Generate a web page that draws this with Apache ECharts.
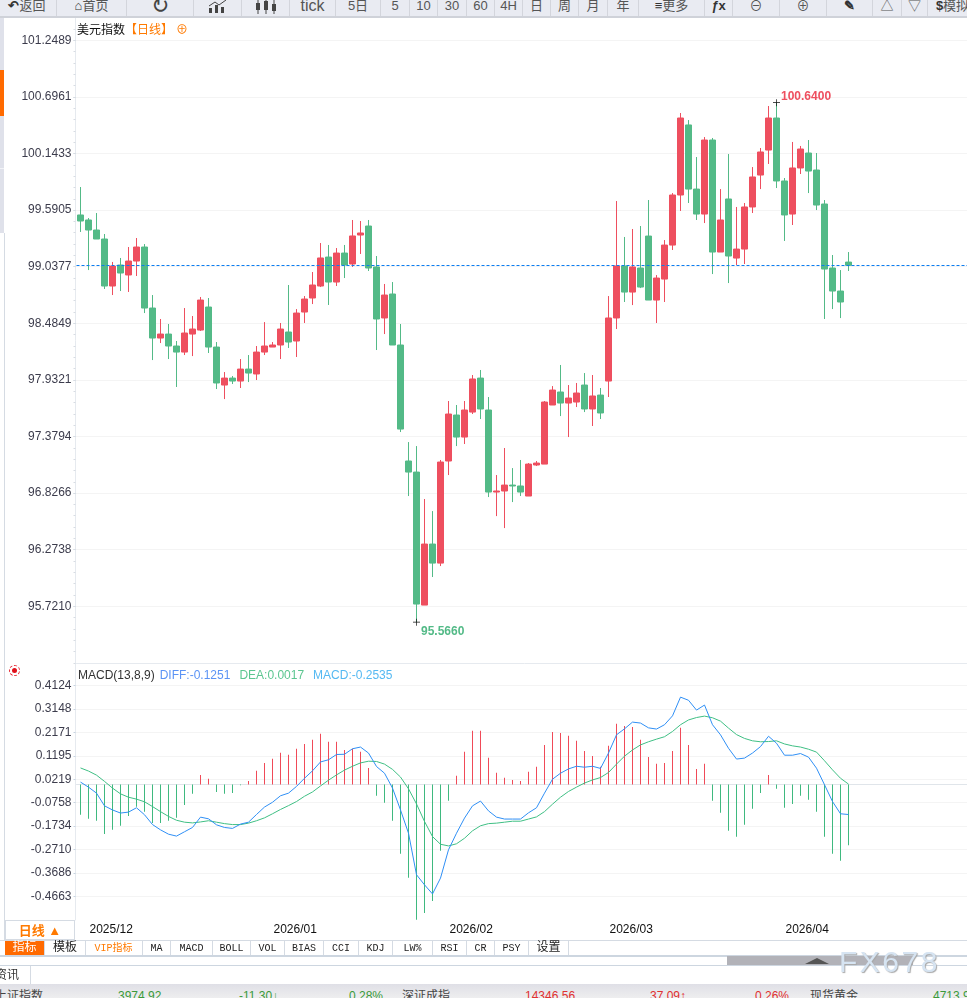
<!DOCTYPE html>
<html>
<head>
<meta charset="utf-8">
<title>美元指数</title>
<script src="https://cdn.jsdelivr.net/npm/echarts@6/dist/echarts.min.js"></script>
<style>
  html, body { margin: 0; padding: 0; background: #fff; overflow: hidden; }
  body { width: 967px; height: 998px; position: relative; font-family: "Liberation Sans", "Noto Sans CJK SC", sans-serif; }
  #chart { position: absolute; left: 0; top: 0; width: 980px; height: 998px; }
  .box { position: absolute; box-sizing: border-box; }
  #toolbar { position: absolute; left: 0; top: 0; width: 967px; height: 18px; background: #e9ebf2; border-bottom: 2px solid #cfd2d9; box-sizing: border-box; overflow: hidden; }
  #toolbar span { position: absolute; top: -4px; height: 20px; line-height: 20px; text-align: center; font-size: 13px; color: #555; border-right: 1px solid #d3d5dc; box-sizing: border-box; white-space: nowrap; }
  #toolbar b { color: #333; }
  #toolbar svg { vertical-align: top; margin-top: 4px; }
  #tabs span { position: absolute; top: 0; height: 15px; line-height: 15px; text-align: center; font-size: 10px; color: #222; border-right: 1px solid #d5dbe3; box-sizing: border-box; font-family: "Liberation Mono", "Noto Sans CJK SC", monospace; }
  #stocks span { position: absolute; top: 5px; line-height: 14px; font-size: 12px; white-space: nowrap; }
</style>
</head>
<body>
<div id="chart"></div>

<!-- surrounding page -->
<div class="box" style="left:0;top:18px;width:4px;height:215px;background:#dfe1ea"></div>
<div class="box" style="left:0;top:70px;width:4px;height:46px;background:#ff6a00"></div>
<div class="box" style="left:0;top:168px;width:4px;height:1px;background:#f2f3f7"></div>
<div class="box" style="left:4px;top:233px;width:1px;height:707px;background:#d5dbe3"></div>
<div class="box" style="left:9px;top:665px;width:11px;height:11px;border:1px dashed #e8303a;border-radius:50%"></div>
<div class="box" style="left:12px;top:668px;width:5px;height:5px;background:#e0101a;border-radius:50%"></div>

<div id="toolbar"></div>

<div class="box" style="left:5px;top:920px;width:70px;height:20px;border:1px solid #d5dbe3;text-align:center;line-height:19px;font-size:13px;font-weight:bold;color:#ff7a00">日线 ▲</div>
<div class="box" style="left:0;top:940px;width:967px;height:1px;background:#d5dbe3"></div>
<div id="tabs" class="box" style="left:5px;top:941px;width:570px;height:15px"></div>
<div class="box" style="left:0;top:955px;width:967px;height:2px;background:#cdd6e0"></div>
<div class="box" style="left:0;top:965px;width:967px;height:1px;background:#cdd6e0"></div>
<div class="box" style="left:727px;top:956px;width:186px;height:9px;background:#b2b2b8"></div>
<div class="box" style="left:805px;top:958px;width:0;height:0;border-left:12px solid transparent;border-right:12px solid transparent;border-bottom:6px solid #555"></div>
<div class="box" style="left:839px;top:943px;font-size:30px;line-height:38px;letter-spacing:2.5px;color:#d6e4f2;text-shadow:1px 1px 1px #a8a8a8">FX678</div>
<div class="box" style="left:-5px;top:966px;width:36px;height:19px;border-right:1px solid #d5dbe3;line-height:18px;font-size:12px;color:#333">资讯</div>
<div id="stocks" class="box" style="left:0;top:984px;width:967px;height:14px;overflow:hidden;background:linear-gradient(#dfdfe6,#eeeeef)"></div>

<script>
const categories = [
  '2025/11/28',
  '2025/12/01','2025/12/02','2025/12/03','2025/12/04','2025/12/05','2025/12/08','2025/12/09','2025/12/10','2025/12/11','2025/12/12',
  '2025/12/15','2025/12/16','2025/12/17','2025/12/18','2025/12/19','2025/12/22','2025/12/23','2025/12/24','2025/12/25','2025/12/26',
  '2025/12/29','2025/12/30','2025/12/31',
  '2026/01/01','2026/01/02','2026/01/05','2026/01/06','2026/01/07','2026/01/08','2026/01/09','2026/01/12','2026/01/13','2026/01/14','2026/01/15','2026/01/16',
  '2026/01/19','2026/01/20','2026/01/21','2026/01/22','2026/01/23','2026/01/26','2026/01/27','2026/01/28','2026/01/29','2026/01/30',
  '2026/02/02','2026/02/03','2026/02/04','2026/02/05','2026/02/06','2026/02/09','2026/02/10','2026/02/11','2026/02/12','2026/02/13',
  '2026/02/16','2026/02/17','2026/02/18','2026/02/19','2026/02/20','2026/02/23','2026/02/24','2026/02/25','2026/02/26','2026/02/27',
  '2026/03/02','2026/03/03','2026/03/04','2026/03/05','2026/03/06','2026/03/09','2026/03/10','2026/03/11','2026/03/12','2026/03/13',
  '2026/03/16','2026/03/17','2026/03/18','2026/03/19','2026/03/20','2026/03/23','2026/03/24','2026/03/25','2026/03/26','2026/03/27',
  '2026/03/30','2026/03/31',
  '2026/04/01','2026/04/02','2026/04/03','2026/04/06','2026/04/07','2026/04/08','2026/04/09','2026/04/10','2026/04/13'
]

// open, close, low, high
const kline = [
  [99.543,99.484,99.377,99.816],[99.494,99.396,99.005,99.513],[99.396,99.308,99.308,99.562],[99.308,98.849,98.820,99.357],
  [98.849,99.044,98.761,99.084],[99.054,98.976,98.800,99.123],[98.957,99.093,98.791,99.230],[99.093,99.230,98.947,99.318],
  [99.230,98.634,98.585,99.259],[98.634,98.341,98.126,98.761],[98.341,98.380,98.292,98.527],[98.380,98.263,98.136,98.478],
  [98.263,98.204,97.863,98.312],[98.204,98.390,98.175,98.634],[98.380,98.429,98.165,98.556],[98.419,98.712,98.410,98.742],
  [98.644,98.253,98.195,98.732],[98.253,97.902,97.843,98.302],[97.882,97.950,97.745,98.009],[97.950,97.921,97.892,97.970],
  [97.921,98.038,97.853,98.136],[98.038,97.999,97.911,98.175],[97.990,98.204,97.931,98.263],[98.204,98.263,98.175,98.497],
  [98.253,98.273,98.253,98.302],[98.273,98.429,98.136,98.488],[98.400,98.302,98.244,98.859],[98.312,98.585,98.156,98.624],
  [98.595,98.722,98.488,98.751],[98.732,98.859,98.673,98.986],[98.849,99.123,98.839,99.269],[99.132,98.888,98.664,99.250],
  [98.888,99.171,98.849,99.220],[99.171,99.054,98.927,99.250],[99.064,99.338,99.035,99.494],[99.347,99.367,99.162,99.484],
  [99.435,99.025,98.996,99.494],[99.035,98.527,98.224,99.142],[98.537,98.761,98.380,98.869],[98.771,98.273,98.273,98.888],
  [98.273,97.452,97.423,98.478],[97.140,97.032,96.798,97.325],[97.032,95.743,95.566,97.286],[95.733,96.329,95.733,96.769],
  [96.329,96.143,96.007,96.651],[96.143,97.130,96.114,97.150],[97.140,97.599,97.003,97.726],[97.589,97.374,97.286,97.687],
  [97.374,97.638,97.306,97.726],[97.618,97.941,97.599,97.980],[97.950,97.648,97.550,98.029],[97.638,96.837,96.788,97.765],
  [96.837,96.847,96.602,97.003],[96.847,96.905,96.485,97.267],[96.905,96.896,96.739,97.071],[96.896,96.837,96.798,97.150],
  [96.798,97.110,96.798,97.120],[97.101,97.120,97.091,97.140],[97.110,97.716,97.110,97.726],[97.687,97.833,97.687,97.872],
  [97.814,97.706,97.579,98.078],[97.706,97.755,97.374,97.882],[97.716,97.804,97.667,97.902],[97.882,97.648,97.618,97.999],
  [97.648,97.775,97.482,97.980],[97.784,97.609,97.550,97.853],[97.921,98.537,97.765,98.751],[98.537,99.045,98.429,99.679],
  [99.045,98.790,98.693,99.328],[98.790,99.035,98.663,99.406],[99.025,98.839,98.829,99.435],[99.337,98.712,98.712,99.689],
  [98.712,98.927,98.488,98.956],[98.917,99.249,98.693,99.298],[99.249,99.738,99.201,99.757],[99.738,100.490,99.582,100.539],
  [100.422,99.796,99.660,100.470],[99.796,99.552,99.494,100.109],[99.552,100.275,99.464,100.304],[100.275,99.181,98.966,100.295],
  [99.181,99.494,99.181,99.796],[99.699,99.142,98.878,100.138],[99.122,99.210,99.054,99.621],[99.210,99.621,99.064,99.660],
  [99.621,99.914,99.562,100.011],[99.933,100.158,99.796,100.197],[100.177,100.490,100.041,100.607],[100.490,99.875,99.806,100.640],
  [99.875,99.543,99.289,99.904],[99.552,100.002,99.445,100.256],[100.002,100.187,99.943,100.217],[100.148,99.972,99.757,100.275],
  [99.982,99.640,99.591,100.148],[99.650,99.015,98.527,99.689],[99.025,98.800,98.624,99.152],[98.800,98.693,98.536,99.005],
  [99.083,99.051,98.996,99.181]
]

const macdBars = [
  -0.126,-0.143,-0.151,-0.206,-0.189,-0.172,-0.131,-0.093,-0.114,-0.160,-0.160,-0.151,-0.139,-0.085,-0.039,0.040,0.024,
  -0.031,-0.039,-0.035,-0.003,0.015,0.057,0.090,0.107,0.132,0.124,0.149,0.169,0.186,0.211,0.178,0.178,0.144,0.149,0.136,0.069,
  -0.047,-0.076,-0.151,-0.289,-0.389,-0.564,-0.535,-0.485,-0.276,-0.068,
  0.036,0.136,0.224,0.224,0.111,0.049,0.028,0.019,0.015,0.053,0.074,0.165,0.219,0.215,0.203,0.182,0.140,0.119,0.074,0.161,
  0.253,0.244,0.240,0.186,0.115,0.086,0.090,0.140,0.236,0.165,0.065,0.086,
  -0.068,-0.118,-0.193,-0.218,-0.168,-0.101,-0.035,0.040,-0.018,-0.097,-0.081,-0.047,-0.064,-0.114,-0.218,-0.289,-0.318,-0.2535
]

const diffLine = [
  0.010,-0.011,-0.036,-0.089,-0.106,-0.119,-0.115,-0.097,-0.126,-0.167,-0.189,-0.207,-0.215,-0.197,-0.179,-0.136,-0.143,-0.168,
  -0.179,-0.183,-0.165,-0.157,-0.125,-0.094,-0.074,-0.047,-0.036,-0.008,0.026,0.057,0.094,0.103,0.125,0.126,0.149,0.156,0.131,
  0.075,0.047,-0.015,-0.106,-0.203,-0.376,-0.418,-0.456,-0.390,-0.272,-0.203,-0.140,-0.089,-0.069,-0.110,-0.136,-0.144,-0.144,
  -0.144,-0.118,-0.097,-0.036,0.022,0.047,0.065,0.076,0.072,0.076,0.067,0.131,0.207,0.232,0.260,0.256,0.236,0.231,0.249,0.286,
  0.364,0.351,0.310,0.331,0.249,0.207,0.151,0.106,0.110,0.131,0.158,0.201,0.172,0.122,0.122,0.129,0.114,0.068,-0.001,-0.071,-0.122,-0.1251
]

const deaLine = [
  0.069,0.056,0.039,0.013,-0.015,-0.039,-0.053,-0.061,-0.072,-0.092,-0.113,-0.133,-0.149,-0.157,-0.160,-0.156,-0.151,-0.157,
  -0.163,-0.167,-0.167,-0.161,-0.151,-0.139,-0.122,-0.104,-0.088,-0.071,-0.049,-0.031,-0.006,0.018,0.040,0.060,0.076,0.090,0.097,
  0.096,0.085,0.063,0.031,-0.018,-0.081,-0.154,-0.217,-0.249,-0.256,-0.247,-0.224,-0.193,-0.172,-0.163,-0.161,-0.157,-0.153,
  -0.153,-0.144,-0.135,-0.113,-0.082,-0.053,-0.029,-0.011,0.006,0.019,0.029,0.050,0.085,0.118,0.144,0.165,0.178,0.189,0.199,0.221,
  0.249,0.269,0.279,0.285,0.278,0.264,0.235,0.208,0.192,0.182,0.178,0.179,0.182,0.169,0.161,0.156,0.147,0.135,0.099,0.061,0.026,0.0017
]

const priceTicks = [95.7210,96.2738,96.8266,97.3794,97.9321,98.4849,99.0377,99.5905,100.1433,100.6961,101.2489]
const macdTicks = [-0.4663,-0.3686,-0.2710,-0.1734,-0.0758,0.0219,0.1195,0.2171,0.3148,0.4124]

const RED = '#ee4f5f'
const GREEN = '#53ba87'
const PRICE_MIN = 95.1673
const PRICE_MAX = 101.4667
const MACD_MIN = -0.5646
const MACD_MAX = 0.50625

// room to the right of the last candle
const axisData = categories.concat(new Array(15).fill(''))
const lastIdx = categories.length - 1
const highIdx = 87
const lowIdx = 42

// small ticks between the price labels
const minorTicks = []
for (let t = priceTicks[0] - 0.5528; t < PRICE_MAX; t += 0.5528 / 5) {
  if (t > PRICE_MIN) minorTicks.push(t)
}

const isMonthStart = i => i > 0 && i <= lastIdx && categories[i].slice(0, 7) !== categories[i - 1].slice(0, 7)

const crossIcon = 'path://M0 4.5H10V5.5H0ZM4.5 0H5.5V10H4.5Z'

const chart = echarts.init(document.getElementById('chart'), null, { width: 980, height: 998 })

chart.setOption({
  animation: false,
  textStyle: { fontFamily: '"Liberation Sans", "Noto Sans CJK SC", sans-serif' },
  title: [
    {
      left: 77, top: 25, padding: 0,
      text: '{a|美元指数}{b|【日线】}{c|⊕}',
      textStyle: {
        fontWeight: 'normal',
        rich: {
          a: { fontSize: 12, color: '#111' },
          b: { fontSize: 12, color: '#ff7a00' },
          c: { fontSize: 12, color: '#ff7a00', padding: [0, 0, 0, 3] }
        }
      }
    },
    {
      left: 78, top: 670, padding: 0,
      text: '{a|MACD(13,8,9)}{b|DIFF:-0.1251}{c|DEA:0.0017}{d|MACD:-0.2535}',
      textStyle: {
        fontWeight: 'normal',
        rich: {
          a: { fontSize: 12, color: '#333' },
          b: { fontSize: 12, color: '#5b93f5', padding: [0, 0, 0, 5] },
          c: { fontSize: 12, color: '#5cc690', padding: [0, 0, 0, 9] },
          d: { fontSize: 12, color: '#55b9f2', padding: [0, 0, 0, 9] }
        }
      }
    }
  ],
  grid: [
    { left: 76.5, top: 18, width: 896, height: 645 },
    { left: 76.5, top: 663, width: 896, height: 257 }
  ],
  xAxis: [
    {
      type: 'category', gridIndex: 0, data: axisData,
      axisLine: { lineStyle: { color: '#e6eaef' } },
      axisTick: { show: false },
      axisLabel: { show: false },
      splitLine: { show: false }
    },
    {
      type: 'category', gridIndex: 1, data: axisData,
      axisLine: { lineStyle: { color: '#e0e5ea' } },
      axisTick: { alignWithLabel: true, length: 6, interval: i => isMonthStart(i), lineStyle: { color: '#d8dde3' } },
      axisLabel: {
        interval: i => isMonthStart(i),
        formatter: v => v.slice(0, 7),
        align: 'left', margin: 4, padding: [0, 0, 0, 1],
        color: '#111', fontSize: 12
      },
      splitLine: { show: false }
    }
  ],
  yAxis: [
    {
      type: 'value', gridIndex: 0, min: PRICE_MIN, max: PRICE_MAX, position: 'left', offset: 1,
      axisLine: { show: true, lineStyle: { color: '#e6eaef' } },
      axisTick: { show: true, length: 2, customValues: priceTicks, lineStyle: { color: '#c8d4e0' } },
      axisLabel: { customValues: priceTicks, formatter: v => v.toFixed(4), color: '#3c3c4c', fontSize: 12, margin: 4 },
      splitLine: { show: true, lineStyle: { color: '#e8e8e8', type: 'dotted' } }
    },
    {
      // minor ticks only
      type: 'value', gridIndex: 0, min: PRICE_MIN, max: PRICE_MAX, position: 'left', offset: 1,
      axisLine: { show: false },
      axisTick: { show: true, length: 2, customValues: minorTicks, lineStyle: { color: '#d8dde3' } },
      axisLabel: { show: false },
      splitLine: { show: false }
    },
    {
      type: 'value', gridIndex: 1, min: MACD_MIN, max: MACD_MAX, position: 'left', offset: 1,
      axisLine: { show: true, lineStyle: { color: '#e6eaef' } },
      axisTick: { show: true, length: 2, customValues: macdTicks, lineStyle: { color: '#c8d4e0' } },
      axisLabel: { customValues: macdTicks, formatter: v => v.toFixed(4), color: '#3c3c4c', fontSize: 12, margin: 4 },
      splitLine: { show: true, lineStyle: { color: '#e8e8e8', type: 'dotted' } }
    }
  ],
  series: [
    {
      name: '美元指数', type: 'candlestick', xAxisIndex: 0, yAxisIndex: 0,
      data: kline, barWidth: 7,
      itemStyle: { color: RED, color0: GREEN, borderColor: RED, borderColor0: GREEN, borderWidth: 1 },
      markLine: {
        silent: true, symbol: 'none', label: { show: false },
        lineStyle: { color: '#0a7cf0', type: [3, 2], width: 1 },
        data: [{ yAxis: kline[lastIdx][1] }]
      },
      markPoint: {
        silent: true,
        symbol: crossIcon, symbolSize: 7,
        itemStyle: { color: '#111' },
        data: [
          {
            coord: [highIdx, kline[highIdx][3]], value: kline[highIdx][3],
            label: { show: true, position: 'right', offset: [0, -6], distance: 1, formatter: p => p.value.toFixed(4), color: RED, fontSize: 12, fontWeight: 'bold' }
          },
          {
            coord: [lowIdx, kline[lowIdx][2]], value: kline[lowIdx][2],
            label: { show: true, position: 'right', offset: [0, 10], distance: 1, formatter: p => p.value.toFixed(4), color: GREEN, fontSize: 12, fontWeight: 'bold' }
          }
        ]
      }
    },
    {
      name: 'MACD', type: 'bar', xAxisIndex: 1, yAxisIndex: 2,
      data: macdBars, barWidth: 1,
      itemStyle: { color: p => (p.value >= 0 ? '#f04a58' : '#3fb97f') }
    },
    {
      name: 'DIFF', type: 'line', xAxisIndex: 1, yAxisIndex: 2,
      data: diffLine, showSymbol: false, z: 5,
      lineStyle: { color: '#2f8ff5', width: 1 }
    },
    {
      name: 'DEA', type: 'line', xAxisIndex: 1, yAxisIndex: 2,
      data: deaLine, showSymbol: false, z: 4,
      lineStyle: { color: '#3fbf84', width: 1 }
    }
  ]
})

const lineIcon = '<svg width="20" height="14" viewBox="0 0 20 14"><path d="M1 13V8h3v5zM7 13V5h3v8zM13 13V7h3v6z" fill="#444"/><path d="M1 6L7 2l4 3 7-5" stroke="#444" fill="none"/></svg>'
const candleIcon = '<svg width="22" height="14" viewBox="0 0 22 14"><path d="M3 0v14M11 0v14M19 0v14" stroke="#444"/><path d="M1 3h4v7H1zM9 1h4v9H9zM17 4h4v7h-4z" fill="#444"/></svg>'

// toolbar buttons: left, width, text
const toolButtons = [
  [-2, 59, '<b>↶</b>返回'], [57, 70, '<b>⌂</b>首页'], [127, 67, '<span style="all:unset;font-size:22px;color:#444">↻</span>'],
  [194, 48, lineIcon], [242, 48, candleIcon], [290, 46, '<span style="all:unset;font-size:16px">tick</span>'],
  [336, 45, '5日'], [381, 29, '5'], [410, 28, '10'], [438, 29, '30'], [467, 28, '60'], [495, 28, '4H'],
  [523, 28, '日'], [551, 28, '周'], [579, 29, '月'], [608, 31, '年'], [639, 66, '<b>≡</b>更多'],
  [705, 28, '<b><i>ƒ</i>x</b>'], [733, 47, '⊖'], [780, 47, '⊕'], [827, 46, '<b>✎</b>'],
  [873, 29, '△'], [902, 26, '▽'], [928, 50, '<b>$</b>模拟']
]
document.getElementById('toolbar').innerHTML = toolButtons
  .map(b => `<span style="left:${b[0]}px;width:${b[1]}px">${b[2]}</span>`).join('')

// indicator tabs: left, width, text
const indicatorTabs = [
  [0, 40, '指标'], [40, 41, '模板'], [80, 58, 'VIP指标'], [138, 28, 'MA'], [166, 42, 'MACD'], [208, 38, 'BOLL'],
  [246, 34, 'VOL'], [280, 39, 'BIAS'], [319, 35, 'CCI'], [354, 34, 'KDJ'], [388, 40, 'LW%'], [428, 34, 'RSI'],
  [462, 28, 'CR'], [490, 34, 'PSY'], [524, 40, '设置']
]
document.getElementById('tabs').innerHTML = indicatorTabs.map((t, i) => {
  const extra = i === 0 ? 'background:#ff6a00;color:#fff;font-size:12px;' : i === 1 ? 'font-size:12px;' : i === 2 ? 'color:#ff7a00;' : i === 14 ? 'font-size:12px;' : ''
  return `<span style="left:${t[0]}px;width:${t[1]}px;${extra}">${t[2]}</span>`
}).join('')

// quotes strip at the bottom: left, text, colour
const quoteCells = [
  [-5, '上证指数', '#444'], [118, '3974.92', '#3a9a3a'], [239, '-11.30↓', '#3a9a3a'], [349, '0.28%', '#3a9a3a'],
  [402, '深证成指', '#444'], [525, '14346.56', '#e03030'], [650, '37.09↑', '#e03030'], [755, '0.26%', '#e03030'],
  [810, '现货黄金', '#444'], [933, '4713.9', '#3a9a3a']
]
document.getElementById('stocks').innerHTML = quoteCells
  .map(q => `<span style="left:${q[0]}px;color:${q[2]}">${q[1]}</span>`).join('')
</script>
</body>
</html>
